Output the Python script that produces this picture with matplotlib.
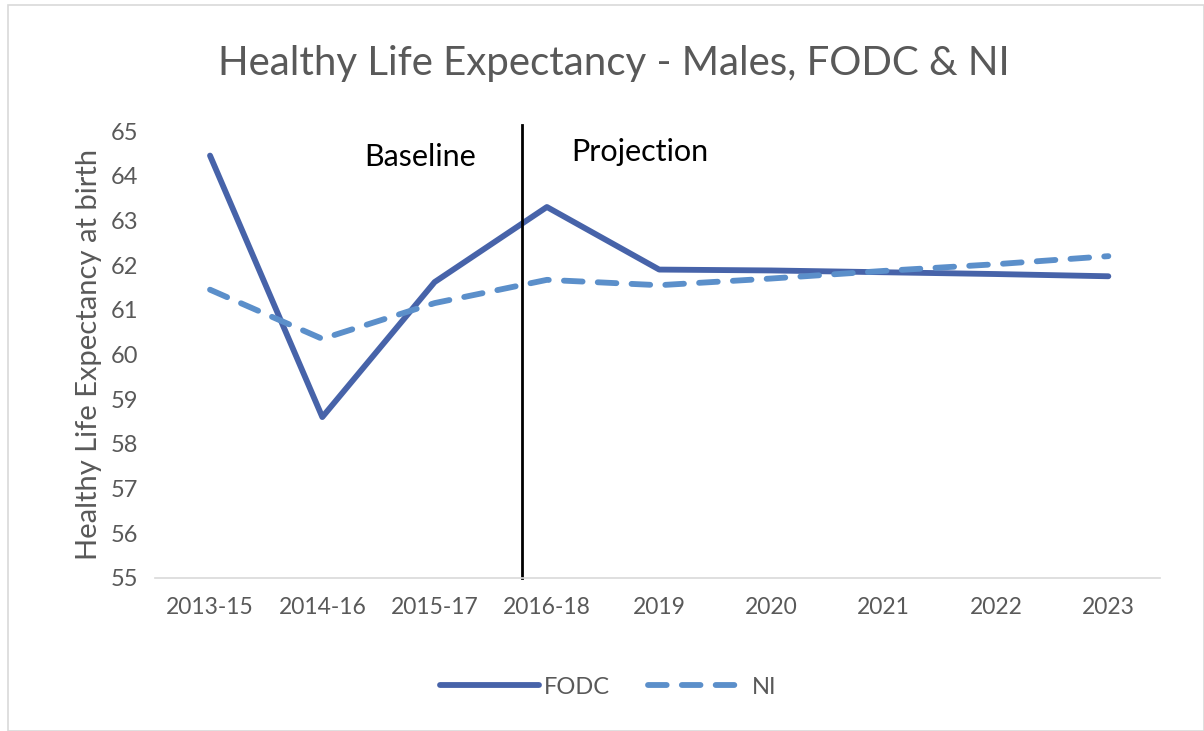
import matplotlib.pyplot as plt
from matplotlib.patches import Rectangle

categories = ["2013-15", "2014-16", "2015-17", "2016-18", "2019", "2020", "2021", "2022", "2023"]
fodc = [64.45, 58.6, 61.62, 63.3, 61.9, 61.88, 61.84, 61.8, 61.75]
ni = [61.45, 60.35, 61.15, 61.67, 61.55, 61.7, 61.87, 62.02, 62.2]
yticks = list(range(55, 66))
divider_x = 2.78

plt.rcParams['font.family'] = ['Lato', 'DejaVu Sans']
fig = plt.figure(figsize=(12.04, 7.31), dpi=100)
fig.patches.append(Rectangle((8/1204, 0.0), 1 - 8/1204, 1 - 5/731, transform=fig.transFigure,
                             fill=False, edgecolor='#d9d9d9', linewidth=1.2))
ax = fig.add_axes([155/1204, 1 - 578/731, 1005/1204, 447/731])

x = list(range(len(categories)))
ax.plot(x, fodc, color='#4763a9', lw=4.2, solid_capstyle='round', label='FODC')
ax.plot(x, ni, color='#5b8fca', lw=4.2, dashes=(3.2, 2.6), dash_capstyle='round', label='NI')

ax.set_xlim(-0.49, 8.46)
ax.set_ylim(55, 65)
ax.set_xticks(x)
ax.set_xticklabels(categories)
ax.set_yticks(yticks)
for s in ['top', 'right', 'left']:
    ax.spines[s].set_visible(False)
ax.spines['bottom'].set_color('#d9d9d9')
ax.spines['bottom'].set_linewidth(1.2)
ax.tick_params(axis='x', length=0, labelsize=16.5, colors='#595959', pad=14)
ax.tick_params(axis='y', length=0, labelsize=17, colors='#595959', pad=12)

ax.plot([divider_x, divider_x], [55, 65.13], color='black', lw=2, clip_on=False)
ax.text(1.87, 64.42, 'Baseline', fontsize=22, color='black', ha='center', va='center')
ax.text(3.83, 64.53, 'Projection', fontsize=22, color='black', ha='center', va='center')

ax.set_ylabel('Healthy Life Expectancy at birth', fontsize=21, color='#595959', labelpad=6)
fig.text(614/1204, 1 - 63/731, 'Healthy Life Expectancy - Males, FODC & NI',
         fontsize=29, color='#595959', ha='center', va='center')

fig.legend(loc='center', bbox_to_anchor=(608/1204, 1 - 687/731), ncol=2, frameon=False,
           fontsize=17, labelcolor='#595959', handlelength=4.2, columnspacing=1.6, handletextpad=0.2)

fig.savefig('out.png', dpi=100)
